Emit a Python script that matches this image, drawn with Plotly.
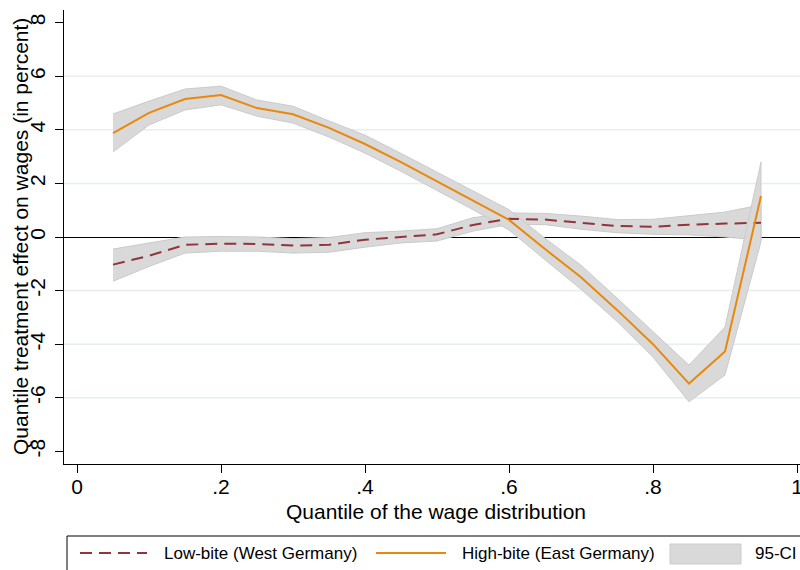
import plotly.graph_objects as go

# Quantiles of the wage distribution
quantiles = [0.05, 0.10, 0.15, 0.20, 0.25, 0.30, 0.35, 0.40, 0.45, 0.50,
             0.55, 0.60, 0.65, 0.70, 0.75, 0.80, 0.85, 0.90, 0.95]

# High-bite (East Germany): point estimate and 95% CI
high = [3.88, 4.63, 5.15, 5.30, 4.81, 4.58, 4.07, 3.47, 2.79, 2.08,
        1.38, 0.64, -0.45, -1.50, -2.72, -4.00, -5.47, -4.27, 1.53]
high_lo = [3.17, 4.18, 4.74, 4.93, 4.51, 4.25, 3.73, 3.13, 2.45, 1.74,
           1.02, 0.26, -0.85, -1.95, -3.15, -4.48, -6.15, -5.15, -0.18]
high_hi = [4.59, 5.07, 5.52, 5.63, 5.11, 4.88, 4.33, 3.80, 3.12, 2.42,
           1.74, 1.02, -0.05, -1.05, -2.28, -3.52, -4.78, -3.36, 2.80]

# Low-bite (West Germany): point estimate and 95% CI
low = [-1.03, -0.70, -0.29, -0.25, -0.26, -0.32, -0.29, -0.10, 0.00, 0.10,
       0.45, 0.68, 0.65, 0.53, 0.41, 0.38, 0.46, 0.50, 0.53]
low_lo = [-1.65, -1.10, -0.60, -0.53, -0.53, -0.60, -0.57, -0.38, -0.22, -0.15,
          0.22, 0.47, 0.46, 0.29, 0.16, 0.10, 0.08, 0.00, -0.12]
low_hi = [-0.45, -0.22, 0.00, 0.02, 0.00, -0.06, -0.02, 0.16, 0.22, 0.31,
          0.72, 0.90, 0.88, 0.78, 0.65, 0.66, 0.80, 0.93, 1.20]

x_ticks = [0, 0.2, 0.4, 0.6, 0.8, 1]
x_ticktext = ["0", ".2", ".4", ".6", ".8", "1"]
y_ticks = [-8, -6, -4, -2, 0, 2, 4, 6, 8]
y_ticktext = ["-8", "-6", "-4", "-2", "0", "2", "4", "6", "8"]
grid_vals = [-6, -4, -2, 2, 4, 6]

series_names = ["Low-bite (West Germany)", "High-bite (East Germany)", "95-CI"]

FONT = "Liberation Sans, Arial, Helvetica, sans-serif"
ORANGE = "#e8890c"
CRANBERRY = "#90353b"
BAND_FILL = "#d9d9d9"
BAND_LINE = "#cbcbcb"

W, H = 800, 570
M_L, M_R, M_T, M_B = 64, 0, 10, 106
PLOT_W = W - M_L - M_R
PLOT_H = H - M_T - M_B


def px(x):
    """Pixel column -> paper x."""
    return (x - M_L) / PLOT_W


def py(y):
    """Pixel row -> paper y."""
    return (H - M_B - y) / PLOT_H


def band(lo, hi):
    xs = list(quantiles) + list(reversed(quantiles))
    ys = list(hi) + list(reversed(lo))
    return go.Scatter(x=xs, y=ys, mode="lines", fill="toself",
                      fillcolor=BAND_FILL,
                      line=dict(color=BAND_LINE, width=1),
                      hoverinfo="skip", showlegend=False)


fig = go.Figure()
fig.add_trace(band(low_lo, low_hi))
fig.add_trace(band(high_lo, high_hi))
fig.add_trace(go.Scatter(x=quantiles, y=low, mode="lines", name=series_names[0],
                         line=dict(color=CRANBERRY, width=2, dash="12px,7px"),
                         showlegend=False))
fig.add_trace(go.Scatter(x=quantiles, y=high, mode="lines", name=series_names[1],
                         line=dict(color=ORANGE, width=2),
                         showlegend=False))

shapes = []
# horizontal grid lines
for g in grid_vals:
    shapes.append(dict(type="line", xref="paper", yref="y", x0=0, x1=1, y0=g, y1=g,
                       line=dict(color="#e6eef0", width=1.5), layer="below"))

# legend frame and keys
LEG_Y = 553
shapes.append(dict(type="rect", xref="paper", yref="paper",
                   x0=px(67), x1=px(840), y0=py(536), y1=py(620),
                   line=dict(color="black", width=1), fillcolor="rgba(0,0,0,0)"))
shapes.append(dict(type="line", xref="paper", yref="paper",
                   x0=px(80), x1=px(147), y0=py(LEG_Y), y1=py(LEG_Y),
                   line=dict(color=CRANBERRY, width=2, dash="12px,7px")))
shapes.append(dict(type="line", xref="paper", yref="paper",
                   x0=px(376), x1=px(446), y0=py(LEG_Y), y1=py(LEG_Y),
                   line=dict(color=ORANGE, width=2)))
shapes.append(dict(type="rect", xref="paper", yref="paper",
                   x0=px(670), x1=px(741), y0=py(544), y1=py(564),
                   line=dict(color=BAND_LINE, width=1), fillcolor=BAND_FILL))

annotations = [
    dict(text=series_names[0], xref="paper", yref="paper", x=px(162), y=py(LEG_Y),
         xanchor="left", yanchor="middle", showarrow=False,
         font=dict(family=FONT, size=17, color="black")),
    dict(text=series_names[1], xref="paper", yref="paper", x=px(460), y=py(LEG_Y),
         xanchor="left", yanchor="middle", showarrow=False,
         font=dict(family=FONT, size=17, color="black")),
    dict(text=series_names[2], xref="paper", yref="paper", x=px(799), y=py(LEG_Y),
         xanchor="right", yanchor="middle", showarrow=False,
         font=dict(family=FONT, size=17, color="black")),
    # axis titles
    dict(text="Quantile of the wage distribution", xref="paper", yref="paper",
         x=px(436), y=py(511), xanchor="center", yanchor="middle", showarrow=False,
         font=dict(family=FONT, size=21, color="black")),
    dict(text="Quantile treatment effect on wages (in percent)", xref="paper",
         yref="paper", x=px(20), y=py(237), xanchor="center", yanchor="middle",
         textangle=-90, showarrow=False,
         font=dict(family=FONT, size=21, color="black")),
]

fig.update_layout(
    width=W, height=H,
    margin=dict(l=M_L, r=M_R, t=M_T, b=M_B, pad=0, autoexpand=False),
    paper_bgcolor="white", plot_bgcolor="white",
    font=dict(family=FONT, size=21, color="black"),
    showlegend=False,
    shapes=shapes,
    annotations=annotations,
    xaxis=dict(range=[-13 / 720, 1 + 3 / 720], tickvals=x_ticks, ticktext=x_ticktext,
               ticks="outside", ticklen=8, tickwidth=1, tickcolor="black",
               ticklabeloverflow="allow", ticklabelstandoff=-4, automargin=False,
               showline=True, linecolor="black", linewidth=1,
               showgrid=False, zeroline=False,
               tickfont=dict(family=FONT, size=21, color="black")),
    yaxis=dict(range=[-8.47, 8.47], tickvals=y_ticks, ticktext=y_ticktext,
               tickangle=-90, ticklabelstandoff=2, automargin=False,
               ticks="outside", ticklen=8, tickwidth=1, tickcolor="black",
               showline=True, linecolor="black", linewidth=1,
               showgrid=False, zeroline=True, zerolinecolor="black",
               zerolinewidth=1,
               tickfont=dict(family=FONT, size=21, color="black")),
)

fig.write_html("out.html")
